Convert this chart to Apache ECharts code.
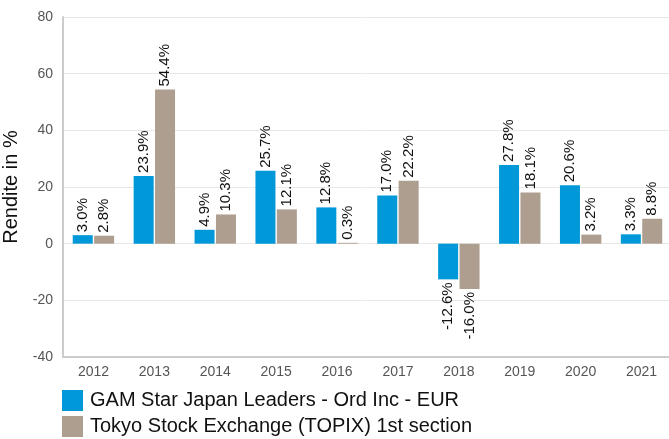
<!DOCTYPE html>
<html>
<head>
<meta charset="utf-8">
<script src="https://cdn.jsdelivr.net/npm/echarts@6/dist/echarts.min.js"></script>
<style>
  html, body { margin: 0; padding: 0; background: #fff; }
  #chart { width: 669px; height: 439px; }
</style>
</head>
<body>
<div id="chart"></div>
<script>
// jahre + renditen
var years = ['2012', '2013', '2014', '2015', '2016', '2017', '2018', '2019', '2020', '2021'];
var gamValues = [3.0, 23.9, 4.9, 25.7, 12.8, 17.0, -12.6, 27.8, 20.6, 3.3];
var topixValues = [2.8, 54.4, 10.3, 12.1, 0.3, 22.2, -16.0, 18.1, 3.2, 8.8];
var seriesNames = ['GAM Star Japan Leaders - Ord Inc - EUR', 'Tokyo Stock Exchange (TOPIX) 1st section'];

var font = 'Liberation Sans, Arial, sans-serif';

var toData = function(arr) {
	return arr.map(function(v) {
		var neg = v < 0;
		return {
			value: v,
			label: {
				position: neg ? 'bottom' : 'top',
				align: neg ? 'right' : 'left'
			}
		};
	});
};

var barLabel = {
	show: true,
	rotate: 90,
	verticalAlign: 'middle',
	distance: 3,
	color: '#111',
	fontSize: 15,
	fontFamily: font,
	formatter: function(p) { return p.value.toFixed(1) + '%'; }
};

var legendItem = function(name, top) {
	return {
		left: 62,
		top: top,
		padding: 0,
		itemWidth: 21,
		itemHeight: 21,
		icon: 'rect',
		textStyle: { fontSize: 20, color: '#111', fontFamily: font, padding: [0, 0, 0, 2] },
		data: [name]
	};
};

var chart = echarts.init(document.getElementById('chart'));
chart.setOption({
	animation: false,
	legend: [legendItem(seriesNames[0], 390), legendItem(seriesNames[1], 416)],
	grid: { left: 63, top: 17, width: 609, bottom: 82, outerBoundsMode: 'none', containLabel: false },
	xAxis: {
		type: 'category',
		data: years,
		axisLine: { onZero: false, lineStyle: { color: '#ccc', width: 2 } },
		axisTick: { show: false },
		axisLabel: { color: '#555', fontSize: 14, fontFamily: font, margin: 8 }
	},
	yAxis: {
		type: 'value',
		min: -40,
		max: 80,
		interval: 20,
		name: 'Rendite in %',
		nameLocation: 'middle',
		nameGap: 37,
		nameTextStyle: { fontSize: 20, color: '#111', fontFamily: font },
		axisLine: { show: true, lineStyle: { color: '#ccc', width: 2 } },
		axisTick: { show: false },
		splitLine: { lineStyle: { color: '#e8e8e8' } },
		axisLabel: { color: '#555', fontSize: 14, fontFamily: font, margin: 10 }
	},
	series: [
		{
			name: seriesNames[0],
			type: 'bar',
			barWidth: 20,
			barGap: '7%',
			itemStyle: { color: '#0098d8' },
			label: barLabel,
			data: toData(gamValues)
		},
		{
			name: seriesNames[1],
			type: 'bar',
			barWidth: 20,
			itemStyle: { color: '#ae9e8f' },
			label: barLabel,
			data: toData(topixValues)
		}
	]
});
</script>
</body>
</html>
